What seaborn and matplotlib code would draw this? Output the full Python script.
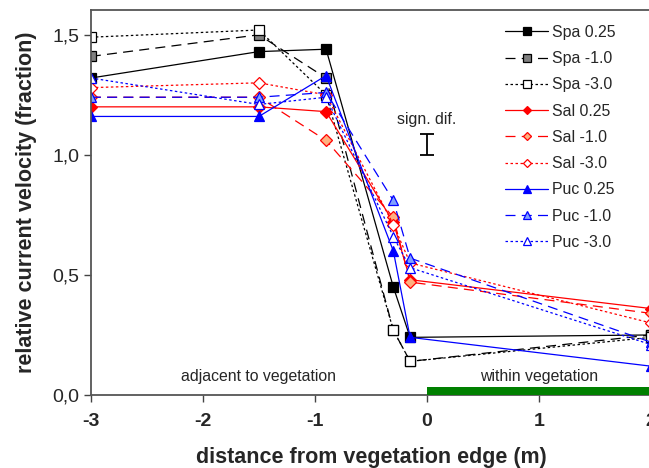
import numpy as np
import pandas as pd
import seaborn as sns
import matplotlib
matplotlib.use("Agg")
import matplotlib.pyplot as plt
from matplotlib.ticker import FuncFormatter

# distances from vegetation edge (m)
distance = [-3.0, -1.5, -0.9, -0.3, -0.15, 2.0]

# relative current velocity per species / depth
spa_025 = [1.32, 1.43, 1.44, 0.45, 0.24, 0.25]
spa_m10 = [1.41, 1.50, 1.32, 0.27, 0.14, 0.25]
spa_m30 = [1.49, 1.52, 1.25, 0.27, 0.14, 0.24]
sal_025 = [1.20, 1.20, 1.18, 0.72, 0.48, 0.36]
sal_m10 = [1.24, 1.24, 1.06, 0.74, 0.47, 0.34]
sal_m30 = [1.28, 1.30, 1.25, 0.71, 0.55, 0.30]
puc_025 = [1.16, 1.16, 1.33, 0.60, 0.24, 0.12]
puc_m10 = [1.24, 1.24, 1.26, 0.81, 0.57, 0.22]
puc_m30 = [1.32, 1.21, 1.24, 0.66, 0.53, 0.21]

labels = ['Spa 0.25', 'Spa -1.0', 'Spa -3.0',
          'Sal 0.25', 'Sal -1.0', 'Sal -3.0',
          'Puc 0.25', 'Puc -1.0', 'Puc -3.0']
values = [spa_025, spa_m10, spa_m30, sal_025, sal_m10, sal_m30, puc_025, puc_m10, puc_m30]

# significant difference bar
sig_x = 0.0
sig_low, sig_high = 1.0, 1.085

# vegetation zone
veg_start, veg_end = 0.0, 2.0

# styles: (line color, marker, face color, linestyle)
styles = [
    ('black', 's', 'black', '-'),
    ('black', 's', '#808080', (0, (8, 5))),
    ('black', 's', 'white', (0, (2, 2))),
    ('red', 'D', 'red', '-'),
    ('red', 'D', '#ffb080', (0, (8, 5))),
    ('red', 'D', 'white', (0, (2, 2))),
    ('blue', '^', 'blue', '-'),
    ('blue', '^', '#80a0ff', (0, (8, 5))),
    ('blue', '^', 'white', (0, (2, 2))),
]

sns.set_style('ticks')
plt.rcParams['font.family'] = ['Liberation Sans', 'DejaVu Sans']
plt.rcParams['axes.unicode_minus'] = False

fig = plt.figure(figsize=(6.49, 4.68), dpi=100)
ax = fig.add_axes([0.140, 0.156, 0.863, 0.823])

for lab, vals, (col, mk, fc, ls) in zip(labels, values, styles):
    df = pd.DataFrame({'distance': distance, 'velocity': vals})
    ms = 6 if mk == 'D' else 7.5
    sns.lineplot(data=df, x='distance', y='velocity', ax=ax, color=col,
                 linestyle=ls, linewidth=0.9, marker=mk, markersize=ms,
                 markerfacecolor=fc, markeredgecolor=col, markeredgewidth=0.9,
                 label=lab, sort=False)

# green vegetation bar
ax.fill_between([veg_start, veg_end], 0, 0.035, color='#008000', lw=0, zorder=5, clip_on=False)
ax.text(-1.5, 0.045, 'adjacent to vegetation', ha='center', va='bottom', fontsize=11.4)
ax.text(1.0, 0.045, 'within vegetation', ha='center', va='bottom', fontsize=11.4)

# sign. dif. bar
ax.errorbar([sig_x], [(sig_low + sig_high) / 2], yerr=[(sig_high - sig_low) / 2],
            color='black', capsize=5, elinewidth=1.3, capthick=1.3, fmt='none')
ax.text(sig_x, 1.115, 'sign. dif.', ha='center', va='bottom', fontsize=11.4)

ax.set_xlim(-3, 2)
ax.set_ylim(0, 1.604)
ax.set_xticks([-3, -2, -1, 0, 1, 2])
ax.set_yticks([0, 0.5, 1.0, 1.5])
ax.yaxis.set_major_formatter(FuncFormatter(lambda v, p: f'{v:.1f}'.replace('.', ',')))
ax.tick_params(axis='x', labelsize=14, length=5, width=1, color='#444444', pad=8)
ax.tick_params(axis='y', labelsize=14, length=5, width=1, color='#444444')
for t in ax.get_xticklabels():
    t.set_fontweight('bold')
for s in ax.spines.values():
    s.set_color('#555555')
    s.set_linewidth(1.3)
    s.set_visible(True)

ax.set_xlabel('distance from vegetation edge (m)', fontsize=15.5, fontweight='bold', labelpad=12)
ax.set_ylabel('relative current velocity (fraction)', fontsize=15.5, fontweight='bold', labelpad=11)

ax.legend(loc='upper right', bbox_to_anchor=(0.962, 0.998), frameon=False, fontsize=11.4,
          handlelength=2.7, handletextpad=0.25, labelspacing=0.71, markerscale=0.75)

fig.savefig('out.png', dpi=100)
